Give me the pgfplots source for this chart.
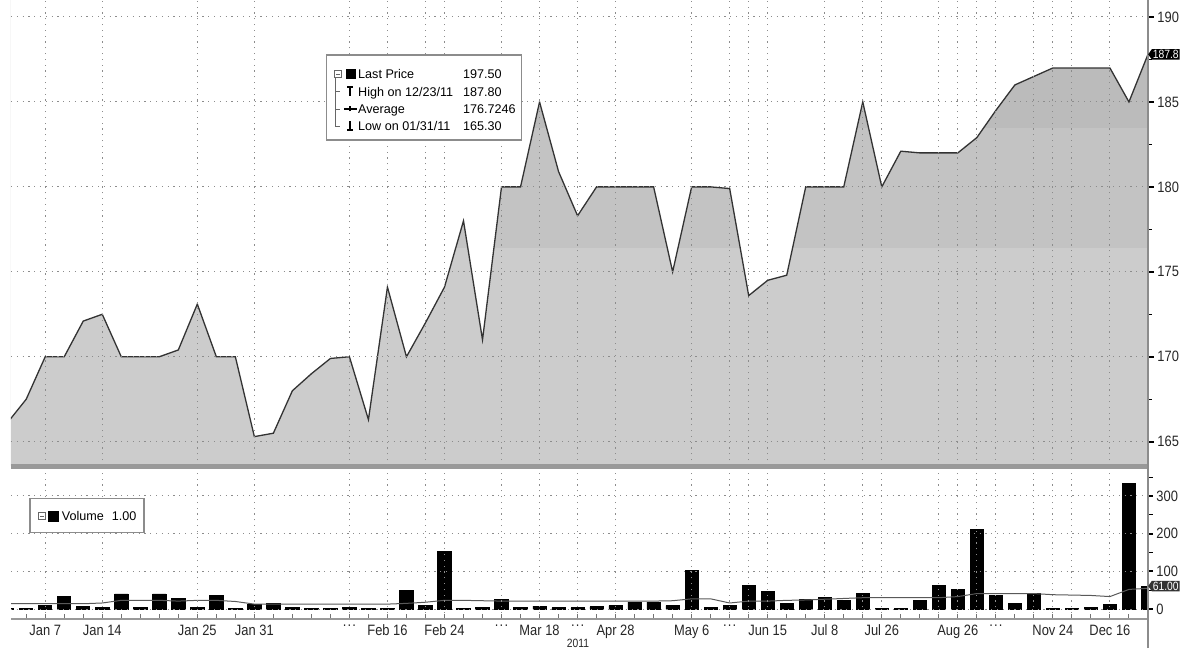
\documentclass[border=0pt]{standalone}
\usepackage{pgfplots}
\pgfplotsset{compat=1.18}
\usepackage{pgfplotstable}
\usetikzlibrary{shapes.symbols}
\usepackage{fontspec}
\setmainfont{Liberation Sans}[FakeStretch=0.86]
\newfontfamily\legfont{Liberation Sans}
\newcommand\tk{\fontsize{15}{17}\selectfont}
\newcommand\legf{\legfont\fontsize{12.6}{14}\selectfont}
\newcommand\gap{\mbox{.\kern1.2pt.\kern1.2pt.}}

\definecolor{bandA}{gray}{0.80}
\definecolor{bandB}{gray}{0.765}
\definecolor{bandC}{gray}{0.735}
\definecolor{gridc}{gray}{0.55}
\definecolor{axisc}{gray}{0.55}

% last price, one row per trading day shown
\pgfplotstableread{
i p
0 166.1
1 167.5
2 170.0
3 170.0
4 172.1
5 172.5
6 170.0
7 170.0
8 170.0
9 170.4
10 173.1
11 170.0
12 170.0
13 165.3
14 165.5
15 168.0
16 169.0
17 169.9
18 170.0
19 166.3
20 174.1
21 170.0
22 172.0
23 174.1
24 178.0
25 171.0
26 180.0
27 180.0
28 185.0
29 180.9
30 178.3
31 180.0
32 180.0
33 180.0
34 180.0
35 175.0
36 180.0
37 180.0
38 179.9
39 173.6
40 174.5
41 174.8
42 180.0
43 180.0
44 180.0
45 185.0
46 180.0
47 182.1
48 182.0
49 182.0
50 182.0
51 182.9
52 184.5
53 186.0
54 186.5
55 187.0
56 187.0
57 187.0
58 187.0
59 185.0
60 187.8
}\price

% volume and its moving average
\pgfplotstableread{
i v m
0 2 14
1 2 14
2 9 14
3 34 14
4 7 14
5 3 16
6 40 23
7 3 23
8 40 23
9 28 21
10 3 23
11 37 23
12 1 20
13 11 13
14 14 13
15 4 13
16 1 13
17 1 13
18 3 13
19 1 13
20 2 13
21 49 15
22 9 18
23 153 23
24 2 23
25 3 22
26 25 21
27 3 21
28 8 21
29 3 21
30 3 21
31 6 21
32 9 21
33 18 21
34 18 21
35 9 22
36 102 27
37 3 27
38 9 16
39 62 21
40 46 21
41 15 23
42 25 24
43 30 26
44 22 28
45 41 30
46 2 30
47 2 30
48 22 30
49 62 30
50 51 33
51 212 41
52 35 41
53 14 41
54 41 41
55 2 38
56 2 37
57 5 36
58 11 33
59 334 52
60 61 55
}\volume

\pgfplotsset{
  panel/.style={
    scale only axis, width=1137pt,
    xmin=0.2, xmax=60,
    axis on top,
    separate axis lines,
    axis x line*=bottom, axis y line*=right,
    y axis line style={-, draw=axisc, line width=1.5pt},
    xtick={2,5,10,13,18,20,22,23,26,28,30,32,36,38,39,40,43,45,46,49,50,51,52,54,55,56,58},
    grid=major,
    major grid style={gridc, line width=1pt, dash pattern=on 1.2pt off 4.6pt},
    tick align=outside,
    ytick style={black},
    major tick style={line width=2pt},
    minor tick style={line width=0.8pt},
    tick label style={font=\tk, text=black!85},
    /pgf/number format/assume math mode=true,
  },
}
\tikzset{
  lastbox/.style={signal, signal to=west, text=white, inner sep=1pt,
    font=\fontsize{12}{13}\selectfont, anchor=west, signal pointer angle=110},
}

\begin{document}
\begin{tikzpicture}[x=1pt,y=1pt]
\useasboundingbox (0,0) rectangle (1185,648);

% price panel
\begin{axis}[
  panel,
  at={(11pt,182pt)}, anchor=south west, height=466pt,
  ymin=163.57, ymax=191,
  x axis line style={-, draw=black!40, line width=5pt},
  xticklabels={}, xtick style={draw=none},
  ytick={165,170,...,190}, minor ytick={167.5,172.5,...,187.5},
  major tick length=6pt, minor tick length=4pt,
]
\addplot[draw=none, fill=bandA] coordinates {(0,163.57) (60,163.57) (60,176.4) (0,176.4)} -- cycle;
\addplot[draw=none, fill=bandB] coordinates {(0,176.4) (60,176.4) (60,183.45) (0,183.45)} -- cycle;
\addplot[draw=none, fill=bandC] coordinates {(0,183.45) (60,183.45) (60,191) (0,191)} -- cycle;
\addplot[draw=none, fill=white] table[x=i,y=p] {\price} -- (axis cs:60,191) -- (axis cs:0,191) -- cycle;
\addplot[black!80, line width=1.3pt] table[x=i,y=p] {\price};
\coordinate (lastp) at (axis cs:60,187.8);
\end{axis}

% volume panel
\begin{axis}[
  panel,
  at={(11pt,29pt)}, anchor=south west, height=150pt,
  ymin=-26.5, ymax=371.6,
  x axis line style={-, draw=black!40, line width=2pt},
  xticklabels={Jan 7,Jan 14,Jan 25,Jan 31,\gap,Feb 16,{},Feb 24,\gap,Mar 18,\gap,Apr 28,May 6,\gap,{},Jun 15,Jul 8,{},Jul 26,{},Aug 26,{},\gap,{},Nov 24,{},Dec 16},
  minor xtick={1,2,...,60},
  xtick style={draw=black!55, line width=1pt, yshift=5pt},
  xticklabel style={yshift=2.5pt},
  ytick={0,100,200,300}, minor ytick={50,150,250,350},
  major tick length=5pt, minor tick length=5pt,
]
\addplot[ybar, bar width=13.3pt, fill=black, draw=black, line width=0.8pt] table[x=i,y=v] {\volume};
\addplot[black!65, line width=1pt] table[x=i,y=m] {\volume};
\coordinate (lastv) at (axis cs:60,61);
\end{axis}

\draw[axisc, line width=1.5pt] (1148,0) -- (1148,182);
\node[lastbox, fill=black] at (lastp) {187.8};
\node[lastbox, fill=black!80] at (lastv) {61.00};
\node[font=\fontsize{12}{13}\selectfont, text=black!85, anchor=base, inner sep=0pt] at (578,1) {2011};

% price legend
\draw[black!45, line width=1.5pt, fill=white] (326.7,593) rectangle (521.7,508);
\draw[black!60, line width=0.8pt] (335,570) -- (335,522) -- (340,522)
  (335,556.3) -- (340,556.3) (335,539) -- (340,539);
\draw[black!60, line width=0.8pt, fill=white] (334.5,570.5) rectangle (341.5,577.5);
\draw[black!60, line width=0.8pt] (336,574) -- (340,574);
\fill[black] (346,569) rectangle (356,579);
\draw[black, line width=1.2pt] (350,552) -- (350,561) (347,561) -- (353,561);
\draw[black, line width=1.2pt] (344,539) -- (357,539) (350,536.5) -- (350,541.5);
\draw[black, line width=1.2pt] (350,518) -- (350,527) (347,518) -- (353,518);
\node[font=\legf, anchor=base west, inner sep=0pt] at (358,569.5) {Last Price};
\node[font=\legf, anchor=base west, inner sep=0pt] at (358,551.8) {High on 12/23/11};
\node[font=\legf, anchor=base west, inner sep=0pt] at (358,534.5) {Average};
\node[font=\legf, anchor=base west, inner sep=0pt] at (358,517.5) {Low on 01/31/11};
\node[font=\legf, anchor=base west, inner sep=0pt] at (463,569.5) {197.50};
\node[font=\legf, anchor=base west, inner sep=0pt] at (463,551.8) {187.80};
\node[font=\legf, anchor=base west, inner sep=0pt] at (463,534.5) {176.7246};
\node[font=\legf, anchor=base west, inner sep=0pt] at (463,517.5) {165.30};

% volume legend
\draw[black!45, line width=1.5pt, fill=white] (30,149.7) rectangle (144,115.3);
\draw[black!60, line width=0.8pt] (38.5,128.5) rectangle (45.5,135.5) (40,132) -- (44,132);
\fill[black] (48,126.5) rectangle (59,137.5);
\node[font=\legf, anchor=base west, inner sep=0pt] at (61.7,127.5) {Volume};
\node[font=\legf, anchor=base west, inner sep=0pt] at (111.7,127.5) {1.00};
\end{tikzpicture}
\end{document}
